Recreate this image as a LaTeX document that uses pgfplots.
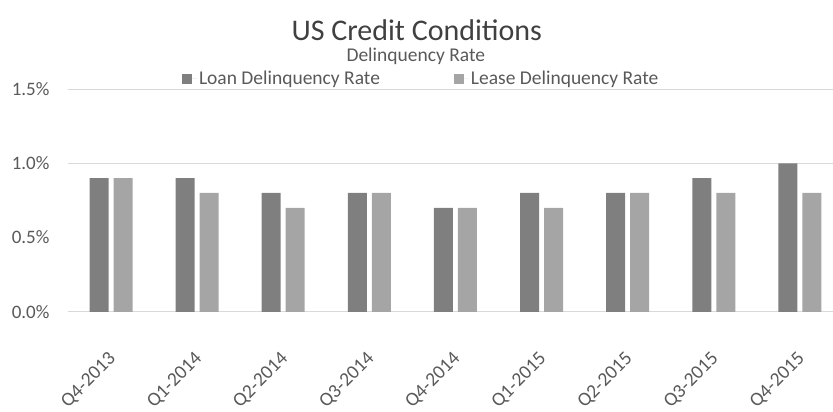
\documentclass[border=0pt]{standalone}
\usepackage{pgfplots}
\pgfplotsset{compat=1.18}
\usepackage{fontspec}
\setmainfont{Carlito}
\definecolor{darkbar}{HTML}{7F7F7F}
\definecolor{lightbar}{HTML}{A5A5A5}
\definecolor{gridc}{HTML}{D9D9D9}
\definecolor{txt}{HTML}{595959}
\begin{document}
\begin{tikzpicture}
\begin{axis}[
  at={(0,0)}, anchor=south west,
  scale only axis, width=765pt, height=223pt,
  xmin=-0.5, xmax=8.38, ymin=0, ymax=1.5,
  axis line style={draw=none},
  ytick={0,1,1.5},
  yticklabels={0.0\%,1.0\%,1.5\%},
  extra y ticks={0.5},
  extra y tick labels={0.5\%},
  extra y tick style={grid=none},
  ymajorgrids, grid style={gridc, line width=0.8pt},
  major tick length=0,
  xtick={0,...,8},
  xticklabels={Q4-2013,Q1-2014,Q2-2014,Q3-2014,Q4-2014,Q1-2015,Q2-2015,Q3-2015,Q4-2015},
  xticklabel shift=34pt,
  xticklabel style={rotate=45, anchor=north east, inner sep=1pt, xshift=-5pt, font=\fontsize{19.5}{22}\selectfont, text=txt},
  yticklabel style={font=\fontsize{19}{22}\selectfont, text=txt, xshift=-15pt},
  /pgf/number format/assume math mode=true,
  clip=false,
  legend columns=2,
  legend style={draw=none, fill=none, at={(rel axis cs:0.462,1.045)}, anchor=center,
    font=\fontsize{19.5}{22}\selectfont, text=txt,
    /tikz/every even column/.append style={column sep=72pt}},
  legend image code/.code={\fill (0pt,-5pt) rectangle (10pt,5pt); \path (0pt,0pt) -- (15pt,0pt);},
]
\addplot[ybar, bar width=19pt, bar shift=-12pt, fill=darkbar, draw=none]
  coordinates {(0,0.9) (1,0.9) (2,0.8) (3,0.8) (4,0.7) (5,0.8) (6,0.8) (7,0.9) (8,1.0)};
\addlegendentry{Loan Delinquency Rate}
\addplot[ybar, bar width=19pt, bar shift=12pt, fill=lightbar, draw=none]
  coordinates {(0,0.9) (1,0.8) (2,0.7) (3,0.8) (4,0.7) (5,0.7) (6,0.8) (7,0.8) (8,0.8)};
\addlegendentry{Lease Delinquency Rate}
\end{axis}
\node[text=black!75, font=\fontsize{30}{34}\selectfont] at (349pt,282pt) {US Credit Conditions};
\node[text=txt, font=\fontsize{19.5}{22}\selectfont] at (348pt,256pt) {Delinquency Rate};
\path[use as bounding box] (-68pt,-95pt) rectangle (765pt,312pt);
\end{tikzpicture}
\end{document}
